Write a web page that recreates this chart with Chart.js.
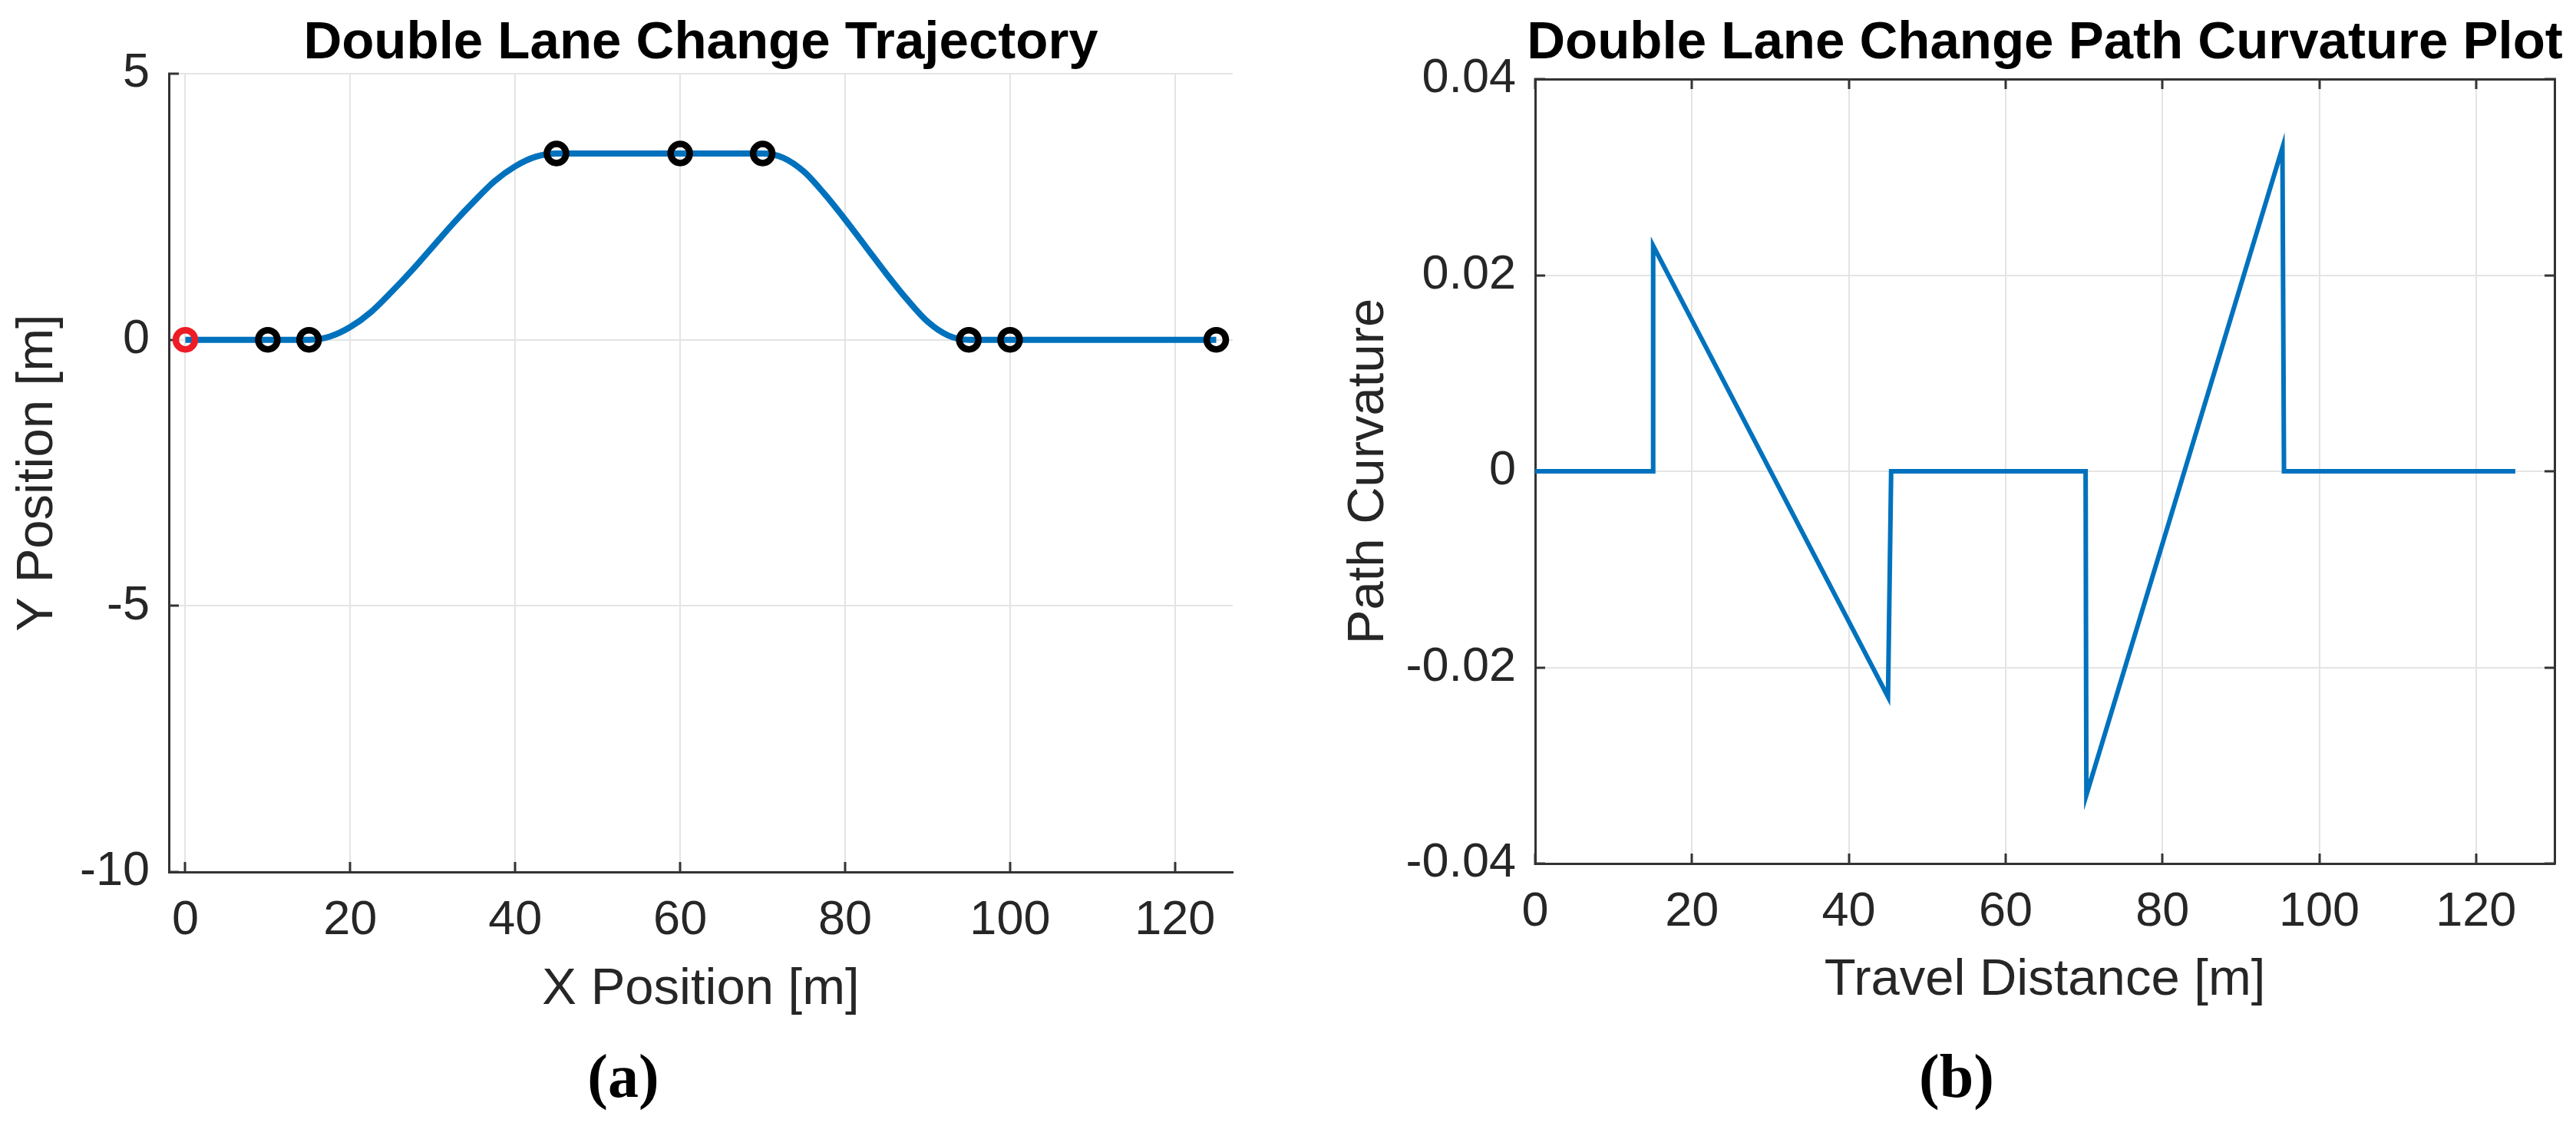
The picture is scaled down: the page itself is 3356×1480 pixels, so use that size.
<!DOCTYPE html>
<html>
<head>
<meta charset="utf-8">
<title>Double Lane Change</title>
<script src="https://cdn.jsdelivr.net/npm/chart.js@4.4.1/dist/chart.umd.min.js"></script>
<style>
  html, body { margin: 0; padding: 0; background: #fff; }
  body { width: 3356px; height: 1480px; position: relative; overflow: hidden; }
  .panel { position: absolute; top: 0; height: 1480px; }
  .tag { position: absolute; top: 1362px; font: bold 80px/80px "Liberation Serif", "Times New Roman", serif; color: #000; transform: translateX(-50%); }
</style>
</head>
<body>
<div class="panel" style="left:0;width:1700px"><canvas id="trajectory-chart" width="1700" height="1480"></canvas></div>
<div class="panel" style="left:1700px;width:1656px"><canvas id="curvature-chart" width="1656" height="1480"></canvas></div>
<div class="tag" style="left:812px">(a)</div>
<div class="tag" style="left:2549px">(b)</div>
<script>
// Data (a) trajectory
const pathX = [0, 5, 10, 15, 17.5, 20, 22.5, 25, 27.5, 30, 32.5, 35, 37.5, 40, 42.5, 45, 50, 55, 60, 65, 70, 72.5, 75, 77.5, 80, 82.5, 85, 87.5, 90, 92.5, 95, 100, 110, 125];
const pathY = [0, 0, 0, 0, 0.06, 0.24, 0.52, 0.9, 1.31, 1.75, 2.19, 2.6, 2.98, 3.26, 3.44, 3.5, 3.5, 3.5, 3.5, 3.5, 3.5, 3.42, 3.16, 2.74, 2.26, 1.75, 1.24, 0.76, 0.34, 0.08, 0, 0, 0, 0];
const wayX = [10, 15, 45, 60, 70, 95, 100, 125];
const wayY = [0, 0, 3.5, 3.5, 3.5, 0, 0, 0];
const startX = [0];
const startY = [0];
const xTicksA = [0, 20, 40, 60, 80, 100, 120];
const yTicksA = [-10, -5, 0, 5];

// Data (b) curvature
const distX = [0, 15, 15.05, 45, 45.4, 70.2, 70.3, 95.3, 95.5, 125];
const curv = [0, 0, 0.023, -0.023, 0, 0, -0.033, 0.033, 0, 0];
const xTicksB = [0, 20, 40, 60, 80, 100, 120];
const yTicksB = [-0.04, -0.02, 0, 0.02, 0.04];
const yLabelsB = ['-0.04', '-0.02', '0', '0.02', '0.04'];

const BLUE = '#0072BD';
const AXIS = '#333333';
const GRID = '#e4e4e4';
const TEXT = '#262626';
const SANS = '"Liberation Sans", Arial, Helvetica, sans-serif';

const toPoints = (xs, ys) => xs.map((x, i) => ({ x, y: ys[i] }));
const fixedTicks = values => scale => { scale.ticks = values.map(v => ({ value: v })); };

// Title drawn over the plot area centre
const panelTitle = {
  id: 'panelTitle',
  afterDraw(chart, args, opts) {
    const { ctx, chartArea } = chart;
    ctx.save();
    ctx.font = 'bold 69px ' + SANS;
    ctx.fillStyle = '#000';
    ctx.textAlign = 'center';
    ctx.textBaseline = 'alphabetic';
    ctx.fillText(opts.text, (chartArea.left + chartArea.right) / 2, opts.baseline);
    ctx.restore();
  }
};

function axis(opts) {
  return {
    type: 'linear',
    position: opts.position,
    min: opts.min,
    max: opts.max,
    afterBuildTicks: fixedTicks(opts.ticks),
    afterFit: scale => {
      if (opts.width !== undefined) scale.width = opts.width;
      if (opts.height !== undefined) scale.height = opts.height;
    },
    grid: {
      color: GRID,
      lineWidth: 2,
      drawOnChartArea: opts.gridOn !== false,
      tickColor: AXIS,
      tickLength: -13,
      tickWidth: 3,
    },
    border: { display: opts.border !== false, color: AXIS, width: 3 },
    ticks: {
      display: opts.labels !== false,
      padding: opts.tickPad || 0,
      color: TEXT,
      font: { family: SANS, size: 63 },
      callback: opts.format || (v => String(v)),
    },
    title: {
      display: !!opts.title,
      text: opts.title || '',
      color: TEXT,
      font: { family: SANS, size: 67 },
      padding: opts.titlePad || 0,
    },
  };
}

const baseOptions = {
  responsive: false,
  animation: false,
  devicePixelRatio: 1,
  events: [],
  plugins: { legend: { display: false }, tooltip: { enabled: false } },
};

// Chart (a)
new Chart(document.getElementById('trajectory-chart'), {
  type: 'scatter',
  data: {
    datasets: [
      {
        data: toPoints(startX, startY),
        pointRadius: 12.5,
        pointBorderWidth: 8.5,
        pointBorderColor: '#ee1c25',
        pointBackgroundColor: 'rgba(0,0,0,0)',
        order: 0,
      },
      {
        data: toPoints(wayX, wayY),
        pointRadius: 12.5,
        pointBorderWidth: 8.5,
        pointBorderColor: '#000',
        pointBackgroundColor: 'rgba(0,0,0,0)',
        order: 0,
      },
      {
        data: toPoints(pathX, pathY),
        showLine: true,
        borderColor: BLUE,
        borderWidth: 8,
        pointRadius: 0,
        cubicInterpolationMode: 'monotone',
        order: 1,
      },
    ],
  },
  options: {
    ...baseOptions,
    layout: { padding: { top: 96, right: 94, bottom: 0, left: 0 } },
    plugins: { ...baseOptions.plugins, panelTitle: { text: 'Double Lane Change Trajectory', baseline: 76 } },
    scales: {
      x: axis({ position: 'bottom', min: -2, max: 127, ticks: xTicksA, height: 344, tickPad: 39, title: 'X Position [m]', titlePad: { bottom: 150 } }),
      y: axis({ position: 'left', min: -10, max: 5, ticks: yTicksA, width: 220, tickPad: 38, title: 'Y Position [m]', titlePad: { top: 9 } }),
    },
  },
  plugins: [panelTitle],
});

// Chart (b)
new Chart(document.getElementById('curvature-chart'), {
  type: 'scatter',
  data: {
    datasets: [
      {
        data: toPoints(distX, curv),
        showLine: true,
        borderColor: BLUE,
        borderWidth: 6,
        pointRadius: 0,
      },
    ],
  },
  options: {
    ...baseOptions,
    layout: { padding: { top: 103, right: 28, bottom: 0, left: 0 } },
    plugins: { ...baseOptions.plugins, panelTitle: { text: 'Double Lane Change Path Curvature Plot', baseline: 76 } },
    scales: {
      x: axis({ position: 'bottom', min: 0, max: 130, ticks: xTicksB, height: 355, tickPad: 39, title: 'Travel Distance [m]', titlePad: { bottom: 162 } }),
      y: axis({ position: 'left', min: -0.04, max: 0.04, ticks: yTicksB, width: 300, tickPad: 38, title: 'Path Curvature', titlePad: { top: 43 },
        format: v => yLabelsB[yTicksB.indexOf(v)] ?? String(v) }),
      xTop: axis({ position: 'top', min: 0, max: 130, ticks: xTicksB, height: 0, labels: false, gridOn: false }),
      yRight: axis({ position: 'right', min: -0.04, max: 0.04, ticks: yTicksB, width: 0, labels: false, gridOn: false }),
    },
  },
  plugins: [panelTitle],
});
</script>
</body>
</html>
